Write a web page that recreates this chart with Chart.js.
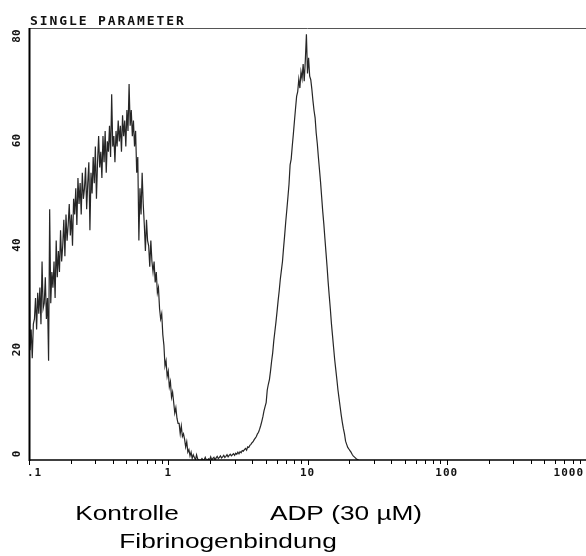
<!DOCTYPE html>
<html>
<head>
<meta charset="utf-8">
<script src="https://cdn.jsdelivr.net/npm/chart.js@4"></script>
<style>
html,body{margin:0;padding:0;background:#fff;}
#c{display:block;}
</style>
</head>
<body>
<canvas id="c" width="586" height="556"></canvas>
<script>
// ---- data (histogram channels, 128 channels per decade, channel 0 = 0.1) ----
const channelsPerDecade = 128;
const kontrolleStart = 0;
const kontrolle = [
  53,
  21, 25, 19.5, 26,
  27, 31, 25, 32, 28,
  33, 26, 38, 29, 30,
  35, 27, 31, 19,
  48, 30, 36, 33,
  38, 31, 42, 35, 40,
  36, 44, 38, 41, 46,
  39, 47, 42, 45,
  49, 43, 47, 41, 50,
  47, 52, 45, 54, 49,
  53, 47, 55, 50,
  52, 56, 48, 53, 57,
  44, 55, 51, 58,
  53, 60, 50, 57, 62,
  56, 59, 54, 62,
  57, 63, 55, 61, 59,
  64, 58, 70, 60, 62,
  57, 63, 60, 65,
  61, 64, 59, 66, 62,
  65, 60, 67, 63,
  72, 64, 67, 62, 65,
  60, 63, 55, 58,
  42, 52, 47, 55, 49,
  45, 40, 46, 42,
  41, 37, 42, 38, 36,
  38, 34, 36, 32, 33,
  29, 27, 28, 24,
  22, 18, 19, 16, 17,
  14, 15, 12, 13,
  11, 9, 10, 8, 7,
  7, 5, 6.5, 4.5, 5,
  4, 2.5, 3.5, 1.5,
  2, 0.8, 1.5, 0.3, 1,
  0.5, 0, 1, 0.2, 0, 0
];
const adpStart = 157;
const adp = [
  0, 0, 0.3, 0, 0, 0.5, 0, 0, 0.2, 0, 0.6, 0, 0.3, 0.5, 0, 0.4, 0.7, 0.3, 0.5, 0.8,
  0.4, 0.6, 0.9, 0.5, 0.7, 1, 0.6, 0.9, 1.1, 0.8,
  1.0, 1.2, 0.9, 1.3, 1.1, 1.5, 1.2, 1.6, 1.4, 1.8,
  1.7, 2.0, 2.2, 1.9, 2.5, 2.4, 2.8, 3.0, 3.3,
  3.5, 3.9, 4.2, 4.5, 5.0, 5.3, 5.9,
  6.6, 7.4, 8.3, 9.4, 10.2, 11.0,
  13.4, 14.5, 15.4, 17.0, 18.9,
  20.5, 22.8, 24.6, 26.4, 28.4,
  30.5, 32.4, 34.6, 36.3, 38.0,
  40.6, 43.0, 45.6, 47.9,
  50.3, 52.8, 56.5, 57.6,
  60.1, 62.4, 64.9, 67.3, 69.6,
  70.5, 72.9, 71.2, 74.3,
  73.0, 75.8, 72.5, 76.5, 81.5,
  74.0, 77.0, 73.5, 72.8,
  71.0, 68.8, 66.9, 65.5, 62.6,
  60.6, 58.0, 55.6, 53.2, 50.4, 47.6,
  45.2, 42.4, 39.7, 37.0, 34.0, 31.4,
  28.9, 26.1, 23.8, 21.5, 19.2, 17.3,
  15.4, 13.4, 11.8, 10.2, 8.6, 7.2,
  6.0, 5.0, 3.6, 3.0, 2.4, 2.1,
  1.8, 1.5, 1.1, 0.8, 0.6, 0.4, 0.2, 0.1, 0
];
const xTickValues = [0.1, 1, 10, 100, 1000];
const xTickLabels = ['.1', '1', '10', '100', '1000'];
const yTickValues = [0, 20, 40, 60, 80];
const yTickLabels = ['0', '20', '40', '60', '80'];
const titleText = 'SINGLE PARAMETER';
const groupLabels = ['Kontrolle', 'ADP (30 µM)'];
const axisTitle = 'Fibrinogenbindung';

// ---- build ----
function channelValue(ch) { return 0.1 * Math.pow(10, ch / channelsPerDecade); }
function toPoints(arr, start) { return arr.map((v, i) => ({ x: channelValue(start + i), y: v })); }

const groupLabelX = [127, 346];

const overlay = {
  id: 'overlay',
  afterDatasetsDraw(chart) {
    const c = chart.ctx, a = chart.chartArea, xs = chart.scales.x, ys = chart.scales.y;
    c.save();
    // top line
    c.strokeStyle = '#555'; c.lineWidth = 1;
    c.beginPath(); c.moveTo(a.left, a.top + 0.5); c.lineTo(a.right, a.top + 0.5); c.stroke();
    // y axis
    c.strokeStyle = '#000'; c.lineWidth = 2;
    c.beginPath(); c.moveTo(a.left + 0.5, a.top); c.lineTo(a.left + 0.5, a.bottom + 1); c.stroke();
    // x axis
    c.lineWidth = 1.5;
    c.beginPath(); c.moveTo(a.left, a.bottom); c.lineTo(a.right, a.bottom); c.stroke();
    // x ticks (log minor)
    c.lineWidth = 1;
    for (let e = -1; e < 3; e++) {
      for (let k = 1; k <= 9; k++) {
        const v = k * Math.pow(10, e);
        const px = Math.round(xs.getPixelForValue(v)) + 0.5;
        c.beginPath(); c.moveTo(px, a.bottom); c.lineTo(px, a.bottom + (k === 1 ? 5 : 4)); c.stroke();
      }
    }
    // x labels
    c.fillStyle = '#111';
    c.font = 'bold 11px "DejaVu Sans Mono"';
    c.letterSpacing = '1px';
    c.textBaseline = 'middle';
    xTickValues.forEach((v, i) => {
      let px = xs.getPixelForValue(v);
      const w = c.measureText(xTickLabels[i]).width;
      let left = px - w / 2;
      if (i === 0) left = px - 2;
      if (left + w > chart.width - 2) left = chart.width - 2 - w;
      c.textAlign = 'left';
      c.fillText(xTickLabels[i], left, a.bottom + 13);
    });
    // y labels (rotated)
    c.letterSpacing = '0px';
    yTickValues.forEach((v, i) => {
      const py = ys.getPixelForValue(v) - 6;
      c.save();
      c.translate(17, py);
      c.rotate(-Math.PI / 2);
      c.textAlign = 'center';
      c.textBaseline = 'middle';
      c.fillText(yTickLabels[i], 0, 0);
      c.restore();
    });
    // title
    c.font = 'bold 13px "DejaVu Sans Mono"';
    c.letterSpacing = '1.9px';
    c.textAlign = 'left';
    c.textBaseline = 'alphabetic';
    c.fillText(titleText, 30, 25);
    c.letterSpacing = '0px';
    // bottom texts
    c.fillStyle = '#000';
    c.font = '21px "Liberation Sans", Arial, sans-serif';
    c.textAlign = 'center';
    groupLabels.forEach((t, i) => {
      c.save(); c.translate(groupLabelX[i], 520); c.scale(1.25, 1); c.fillText(t, 0, 0); c.restore();
    });
    c.save(); c.translate(228, 548); c.scale(1.25, 1); c.fillText(axisTitle, 0, 0); c.restore();
    c.restore();
  }
};

new Chart(document.getElementById('c').getContext('2d'), {
  type: 'line',
  data: {
    datasets: [
      { label: groupLabels[0], data: toPoints(kontrolle, kontrolleStart), borderColor: '#262626', borderWidth: 1.2, pointRadius: 0, tension: 0, fill: false },
      { label: groupLabels[1], data: toPoints(adp, adpStart), borderColor: '#262626', borderWidth: 1.2, pointRadius: 0, tension: 0, fill: false }
    ]
  },
  options: {
    animation: false,
    responsive: false,
    devicePixelRatio: 1,
    layout: { padding: { left: 29, right: 0, top: 28, bottom: 96 } },
    plugins: { legend: { display: false }, tooltip: { enabled: false } },
    scales: {
      x: { type: 'logarithmic', min: 0.1, max: 1000, display: false },
      y: { type: 'linear', min: 0, max: 82.7, display: false }
    }
  },
  plugins: [overlay]
});
</script>
</body>
</html>
